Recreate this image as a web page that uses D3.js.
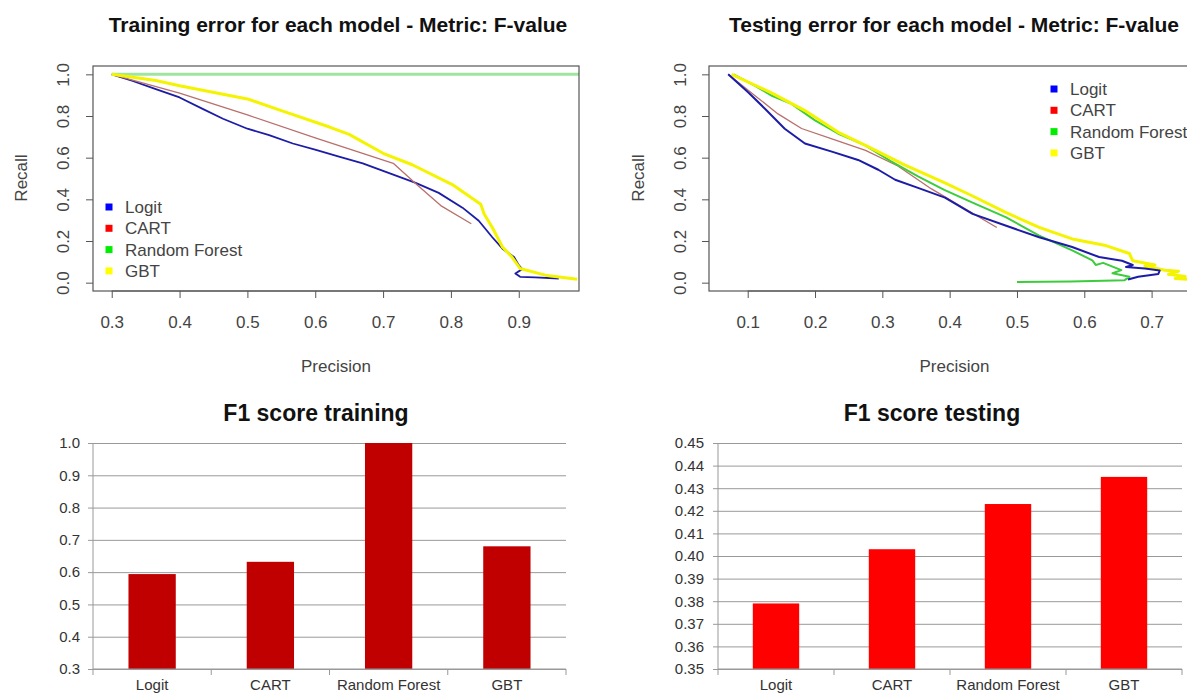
<!DOCTYPE html>
<html>
<head>
<meta charset="utf-8">
<script src="https://cdn.jsdelivr.net/npm/d3@7"></script>
<style>
  body { margin: 0; background: #fff; }
  svg { display: block; font-family: "Liberation Sans", Arial, sans-serif; }
</style>
</head>
<body>
<svg id="chart" width="1187" height="693"></svg>
<script>
// ---- data ----
const models = ["Logit", "CART", "Random Forest", "GBT"];
const legendColors = ["#0000ff", "#ff0000", "#00ee00", "#ffff00"];

// training precision/recall curves: [precision, recall]
const trainLogit = [[0.3,1.0],[0.331,0.968],[0.365,0.929],[0.4,0.889],[0.434,0.834],[0.464,0.787],[0.5,0.739],
  [0.532,0.708],[0.567,0.668],[0.601,0.637],[0.635,0.605],[0.67,0.573],[0.7,0.537],[0.748,0.479],[0.782,0.431],
  [0.817,0.36],[0.841,0.297],[0.861,0.218],[0.876,0.163],[0.893,0.123],[0.9,0.084],[0.905,0.065],[0.895,0.044],
  [0.902,0.028],[0.924,0.025],[0.959,0.02]];
const trainCart = [[0.3,1.0],[0.4,0.91],[0.5,0.805],[0.6,0.695],[0.715,0.573],[0.75,0.47],[0.785,0.37],[0.83,0.283]];
const trainRf = [[0.3,1.0],[1.0,1.0]];
const trainGbt = [[0.3,1.0],[0.365,0.97],[0.4,0.945],[0.5,0.882],[0.55,0.826],[0.621,0.747],[0.65,0.712],[0.7,0.621],
  [0.743,0.566],[0.802,0.471],[0.844,0.376],[0.849,0.33],[0.861,0.265],[0.876,0.171],[0.89,0.123],[0.902,0.068],
  [0.939,0.036],[0.986,0.016]];

// testing precision/recall curves
const testLogit = [[0.071,1.0],[0.101,0.913],[0.126,0.834],[0.155,0.739],[0.185,0.668],[0.225,0.629],[0.264,0.589],
  [0.294,0.542],[0.319,0.494],[0.353,0.455],[0.393,0.408],[0.434,0.33],[0.484,0.273],[0.533,0.218],[0.582,0.171],
  [0.622,0.123],[0.656,0.105],[0.672,0.085],[0.662,0.075],[0.69,0.068],[0.712,0.058],[0.71,0.042],[0.68,0.028],
  [0.665,0.015]];
const testCart = [[0.071,1.0],[0.11,0.9],[0.145,0.81],[0.18,0.74],[0.225,0.69],[0.275,0.635],[0.323,0.56],
  [0.373,0.45],[0.42,0.36],[0.47,0.265]];
const testRf = [[0.079,1.0],[0.111,0.945],[0.136,0.897],[0.165,0.858],[0.2,0.779],[0.234,0.716],[0.274,0.66],
  [0.313,0.582],[0.353,0.51],[0.392,0.445],[0.434,0.384],[0.484,0.313],[0.533,0.226],[0.582,0.155],[0.612,0.107],
  [0.617,0.085],[0.628,0.095],[0.655,0.06],[0.642,0.045],[0.667,0.028],[0.66,0.012],[0.58,0.006],[0.5,0.003]];
const testGbt = [[0.076,1.0],[0.136,0.91],[0.185,0.826],[0.234,0.723],[0.284,0.645],[0.333,0.565],[0.392,0.48],
  [0.434,0.416],[0.484,0.336],[0.533,0.265],[0.582,0.21],[0.632,0.178],[0.667,0.14],[0.672,0.105],[0.705,0.085],
  [0.69,0.08],[0.72,0.06],[0.74,0.055],[0.725,0.04],[0.75,0.03],[0.735,0.02],[0.76,0.015],[0.78,0.01]];

// F1 scores
const trainF1 = [0.594, 0.632, 1.0, 0.680];
const testF1 = [0.379, 0.403, 0.423, 0.435];

// tick labels
const trainPrecTicks = [0.3, 0.4, 0.5, 0.6, 0.7, 0.8, 0.9];
const testPrecTicks = [0.1, 0.2, 0.3, 0.4, 0.5, 0.6, 0.7];
const recallTicks = [0, 0.2, 0.4, 0.6, 0.8, 1.0];
const trainF1Ticks = [0.3, 0.4, 0.5, 0.6, 0.7, 0.8, 0.9, 1.0];
const testF1Ticks = [0.35, 0.36, 0.37, 0.38, 0.39, 0.40, 0.41, 0.42, 0.43, 0.44, 0.45];

const svg = d3.select("#chart");
svg.append("rect").attr("width", 1187).attr("height", 693).attr("fill", "#fff");

/**
 * Draws one R-style precision/recall panel
 */
function drawCurves(o) {
    let g = svg.append("g");
    let x = d3.scaleLinear().domain(o.xDomain).range([o.left, o.right]);
    let y = d3.scaleLinear().domain([-0.04, 1.04]).range([o.bottom, o.top]);

    g.append("clipPath").attr("id", o.id)
        .append("rect")
        .attr("x", o.left).attr("y", o.top)
        .attr("width", o.right - o.left).attr("height", o.bottom - o.top);

    let line = d3.line().x(d => x(d[0])).y(d => y(d[1]));
    let plot = g.append("g").attr("clip-path", "url(#" + o.id + ")");
    o.series.forEach(s => {
        plot.append("path")
            .datum(s.data)
            .attr("d", line)
            .attr("fill", "none")
            .attr("stroke", s.color)
            .attr("stroke-width", s.width)
            .attr("stroke-linejoin", "round");
    });

    // box
    g.append("rect")
        .attr("x", o.left).attr("y", o.top)
        .attr("width", o.right - o.left).attr("height", o.bottom - o.top)
        .attr("fill", "none").attr("stroke", "#555").attr("stroke-width", 1.2);

    // x axis
    let xAxis = g.append("g").attr("transform", "translate(0," + o.bottom + ")")
        .call(d3.axisBottom(x).tickValues(o.xTicks).tickSize(7).tickFormat(d3.format(".1f")));
    xAxis.select(".domain").attr("d", "M" + x(o.xTicks[0]) + ",0H" + x(o.xTicks[o.xTicks.length - 1]))
        .attr("stroke", "#555");
    xAxis.selectAll(".tick line").attr("stroke", "#555");
    xAxis.selectAll(".tick text").attr("y", 0).attr("dy", 37)
        .attr("font-size", 17).attr("fill", "#444").attr("font-family", null);

    // y axis (labels rotated like R's default)
    let yAxis = g.append("g").attr("transform", "translate(" + o.left + ",0)")
        .call(d3.axisLeft(y).tickValues(recallTicks).tickSize(7).tickFormat(d3.format(".1f")));
    yAxis.select(".domain").remove();
    yAxis.selectAll(".tick line").attr("stroke", "#555");
    yAxis.selectAll(".tick text")
        .attr("x", 0).attr("dy", null).attr("text-anchor", "middle")
        .attr("transform", "translate(" + (o.yLabX - o.left) + ",0) rotate(-90) translate(0,6)")
        .attr("font-size", 17).attr("fill", "#444").attr("font-family", null);

    g.append("text").attr("x", o.titleX).attr("y", 32)
        .attr("text-anchor", "middle").attr("font-weight", "bold").attr("font-size", 21)
        .attr("fill", "#111").text(o.title);
    g.append("text").attr("x", (o.left + o.right) / 2).attr("y", 372)
        .attr("text-anchor", "middle").attr("font-size", 17).attr("fill", "#444").text("Precision");
    g.append("text").attr("transform", "translate(" + (o.recallX + 6) + ",178) rotate(-90)")
        .attr("text-anchor", "middle").attr("font-size", 17).attr("fill", "#444").text("Recall");

    // legend
    let leg = g.append("g");
    models.forEach((m, i) => {
        let cy = o.legY + i * 21.3;
        leg.append("rect").attr("x", o.legX - 3.5).attr("y", cy - 3.5).attr("width", 7).attr("height", 7)
            .attr("fill", legendColors[i]);
        leg.append("text").attr("x", o.legX + 16).attr("y", cy + 6)
            .attr("font-size", 17).attr("fill", "#444").text(m);
    });
}

drawCurves({
    id: "clipTrain", left: 93, right: 579, top: 66, bottom: 291,
    xDomain: [0.2724, 0.9888], xTicks: trainPrecTicks,
    yLabX: 63, recallX: 21, titleX: 338, legX: 109, legY: 207,
    title: "Training error for each model - Metric: F-value",
    series: [
        { data: trainLogit, color: "#1c1ca6", width: 1.8 },
        { data: trainCart, color: "#b8706c", width: 1.3 },
        { data: trainRf, color: "#9fe49f", width: 3 },
        { data: trainGbt, color: "#f4f400", width: 3 }
    ]
});

drawCurves({
    id: "clipTest", left: 709, right: 1200, top: 66, bottom: 291,
    xDomain: [0.0425, 0.7719], xTicks: testPrecTicks,
    yLabX: 680, recallX: 638, titleX: 954, legX: 1054, legY: 89,
    title: "Testing error for each model - Metric: F-value",
    series: [
        { data: testCart, color: "#b8706c", width: 1.3 },
        { data: testRf, color: "#3ccc3c", width: 2 },
        { data: testGbt, color: "#f4f400", width: 3 },
        { data: testLogit, color: "#1c1ca6", width: 2 }
    ]
});

/**
 * Draws one Excel-style bar panel
 */
function drawBars(o) {
    let g = svg.append("g");
    let x = d3.scaleBand().domain(models).range([o.left, o.right]).paddingInner(0.6).paddingOuter(0.3);
    let band = d3.scaleBand().domain(models).range([o.left, o.right]);
    let y = d3.scaleLinear().domain(o.yDomain).range([669, 443]);

    // gridlines and value labels
    let yAxis = g.append("g").attr("transform", "translate(" + o.left + ",0)")
        .call(d3.axisLeft(y).tickValues(o.ticks).tickSize(5).tickFormat(d3.format(o.fmt)));
    yAxis.select(".domain").attr("d", "M0,669V443").attr("stroke", "#999");
    yAxis.selectAll(".tick line").attr("x1", -5).attr("x2", o.right - o.left).attr("stroke", "#999");
    yAxis.selectAll(".tick text").attr("x", o.labelRight - o.left).attr("font-size", 15)
        .attr("fill", "#333").attr("font-family", null);

    g.selectAll(".bar")
        .data(o.values)
        .enter()
        .append("rect")
        .attr("x", (d, i) => x(models[i]))
        .attr("width", x.bandwidth())
        .attr("y", d => y(d))
        .attr("height", d => y(o.yDomain[0]) - y(d))
        .attr("fill", o.color);

    // category axis
    let xAxis = g.append("g").attr("transform", "translate(0,669)");
    xAxis.append("line").attr("x1", o.left).attr("x2", o.right).attr("stroke", "#999");
    let edges = models.map(m => band(m)).concat([o.right]);
    xAxis.selectAll(".edge").data(edges).enter().append("line")
        .attr("x1", d => d).attr("x2", d => d).attr("y1", 0).attr("y2", 6).attr("stroke", "#999");
    xAxis.selectAll(".cat").data(models).enter().append("text")
        .attr("x", d => band(d) + band.bandwidth() / 2).attr("y", 21)
        .attr("text-anchor", "middle").attr("font-size", 15).attr("fill", "#333").text(d => d);

    g.append("text").attr("x", o.titleX).attr("y", 421)
        .attr("text-anchor", "middle").attr("font-weight", "bold").attr("font-size", 23)
        .attr("fill", "#111").text(o.title);
}

drawBars({
    left: 93, right: 566, labelRight: 80, yDomain: [0.3, 1.0], ticks: trainF1Ticks, fmt: ".1f",
    values: trainF1, color: "#c00000", title: "F1 score training", titleX: 316
});

drawBars({
    left: 718, right: 1182, labelRight: 704, yDomain: [0.35, 0.45], ticks: testF1Ticks, fmt: ".2f",
    values: testF1, color: "#ff0000", title: "F1 score testing", titleX: 932
});
</script>
</body>
</html>
